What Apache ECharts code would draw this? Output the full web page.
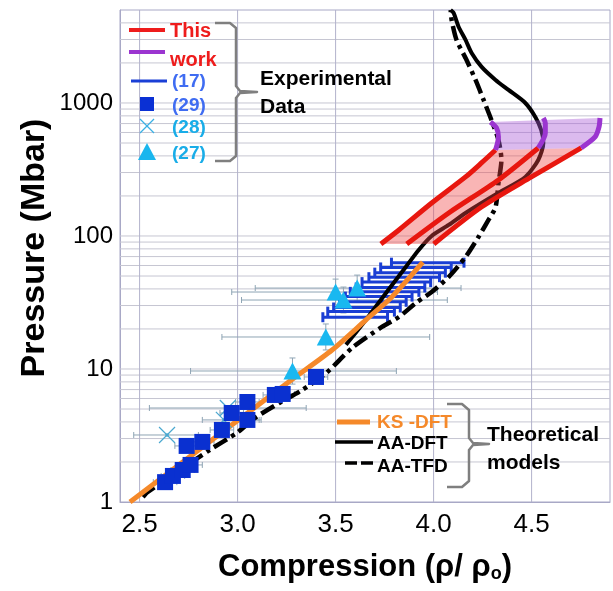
<!DOCTYPE html>
<html><head><meta charset="utf-8">
<script src="https://cdn.jsdelivr.net/npm/echarts@6/dist/echarts.min.js"></script>
<style>html,body{margin:0;padding:0;background:#fff}#c{width:613px;height:591px}</style>
</head><body><div id="c"></div>
<script>
// ---------- axis / grid values ----------
const xGridValues = [2.5, 3.0, 3.5, 4.0, 4.5];
const yLabelValues = [1, 10, 100, 1000];
const yGridValues = [2,3,4,5,6,7,8,9,10,20,30,40,50,60,70,80,90,100,200,300,400,500,600,700,800,900,1000,2000,3000,4000];

// ---------- theoretical models ----------
const ksDftX = [2.451, 2.862, 3.274, 3.482, 3.655, 3.787, 3.945];
const ksDftY = [1.0, 2.87, 8.27, 13.9, 23.4, 34.8, 63.5];

const aaDftX = [3.553, 3.655, 3.757, 3.858, 3.924, 3.990, 4.077, 4.163, 4.331, 4.468, 4.534, 4.560, 4.549, 4.519, 4.468, 4.382, 4.316, 4.245, 4.194, 4.163, 4.128, 4.102, 4.087];
const aaDftY = [15.2, 23.4, 37.3, 58.5, 78.5, 100, 121, 149, 211, 278, 373, 500, 626, 785, 1000, 1253, 1489, 1866, 2377, 2977, 3725, 4750, 5000];

const aaTfdX = [2.517, 2.542, 2.857, 2.995, 3.096, 3.213, 3.330, 3.452, 3.584, 3.736, 3.823, 3.909, 3.990, 4.077, 4.163, 4.229, 4.280, 4.316, 4.331, 4.346, 4.331, 4.295, 4.255, 4.214, 4.168, 4.117, 4.092, 4.087];
const aaTfdY = [1.09, 1.19, 2.46, 3.30, 4.36, 5.55, 6.95, 9.33, 14.4, 20.7, 24.6, 31.3, 37.9, 49.2, 69.5, 98.3, 132, 165, 250, 373, 527, 745, 1054, 1489, 2105, 2977, 4207, 5000];

// ---------- this work ----------
const redLeftX = [3.731, 3.823, 3.990, 4.163, 4.244, 4.316];
const redLeftY = [87.1, 111, 177, 278, 354, 443];
const redMidX = [3.863, 4.077, 4.331, 4.534];
const redMidY = [87.1, 149, 264, 459];
const redRightX = [4.001, 4.244, 4.499, 4.753];
const redRightY = [87.1, 165, 278, 459];
const purpleLeftX = [4.316, 4.331, 4.321, 4.290];
const purpleLeftY = [443, 555, 649, 719];
const purpleMidX = [4.534, 4.570, 4.570, 4.560];
const purpleMidY = [459, 595, 707, 771];
const purpleRightX = [4.753, 4.824, 4.844, 4.849];
const purpleRightY = [459, 555, 660, 771];

// ---------- experimental data ----------
// (17): points with horizontal error bars
const exp17X = [3.60, 3.63, 3.66, 3.69, 3.72, 3.75, 3.78, 3.81, 3.85, 3.88, 3.91, 3.97];
const exp17Y = [24.5, 27, 29, 32, 35, 38, 41, 45, 49, 53, 58, 63];
const exp17Lo = [3.435, 3.46, 3.49, 3.52, 3.55, 3.575, 3.605, 3.635, 3.67, 3.70, 3.73, 3.785];
const exp17Hi = [3.765, 3.80, 3.83, 3.86, 3.89, 3.925, 3.955, 3.985, 4.03, 4.06, 4.09, 4.155];
// (29): squares
const exp29X = [2.63, 2.67, 2.72, 2.76, 2.74, 2.82, 2.92, 2.97, 3.05, 3.05, 3.19, 3.23, 3.40];
const exp29Y = [1.41, 1.57, 1.74, 1.90, 2.64, 2.83, 3.48, 4.67, 4.14, 5.65, 6.38, 6.49, 8.71];
const exp29Lo = [2.57, 2.61, 2.66, 2.70, 2.68, 2.76, 2.86, 2.91, 2.99, 2.99, 3.13, 3.17, 3.34];
const exp29Hi = [2.69, 2.73, 2.78, 2.82, 2.80, 2.88, 2.98, 3.03, 3.11, 3.11, 3.25, 3.29, 3.46];
// (28): crosses
const exp28X = [2.64, 2.93, 2.95];
const exp28Y = [3.19, 4.14, 5.09];
const exp28Lo = [2.47, 2.82, 2.55];
const exp28Hi = [2.80, 3.12, 3.35];
// (27): triangles
const exp27X = [3.50, 3.61, 3.54, 3.45, 3.28];
const exp27Y = [37.9, 40.6, 33.0, 17.4, 9.66];
const exp27Lo = [2.97, 3.09, 3.02, 2.92, 2.76];
const exp27Hi = [4.02, 4.14, 4.07, 3.98, 3.81];
const exp27YLo = [30.3, 32.5, 26.4, 13.9, 7.7];
const exp27YHi = [47.4, 50.8, 41.3, 21.8, 12.1];

// ---------- helpers ----------
const X_MIN = 2.4, X_MAX = 4.9, Y_MIN = 1, Y_MAX = 5000;
const FONT = '"Liberation Sans", Arial, sans-serif';
const pairs = (xs, ys) => xs.map((x, i) => [x, ys[i]]);

function gridSeries(values, vertical, color, z) {
  return {
    type: 'custom', silent: true, z: z, clip: true,
    data: values.map(v => vertical ? [v, 10] : [3, v]),
    renderItem(params, api) {
      let a, b;
      if (vertical) { a = api.coord([api.value(0), Y_MIN]); b = api.coord([api.value(0), Y_MAX]); }
      else { a = api.coord([X_MIN, api.value(1)]); b = api.coord([X_MAX, api.value(1)]); }
      return { type: 'line', shape: { x1: a[0], y1: a[1], x2: b[0], y2: b[1] }, style: { stroke: color, lineWidth: 1 } };
    }
  };
}

function xErrSeries(xs, ys, lo, hi, color, width, cap, z) {
  return {
    type: 'custom', silent: true, z: z, clip: true,
    data: xs.map((x, i) => [x, ys[i], lo[i], hi[i]]),
    renderItem(params, api) {
      const y = api.value(1);
      const a = api.coord([api.value(2), y]);
      const b = api.coord([api.value(3), y]);
      const st = { stroke: color, lineWidth: width };
      return { type: 'group', children: [
        { type: 'line', shape: { x1: a[0], y1: a[1], x2: b[0], y2: b[1] }, style: st },
        { type: 'line', shape: { x1: a[0], y1: a[1] - cap, x2: a[0], y2: a[1] + cap }, style: st },
        { type: 'line', shape: { x1: b[0], y1: b[1] - cap, x2: b[0], y2: b[1] + cap }, style: st }
      ]};
    }
  };
}

function yErrSeries(xs, ys, lo, hi, color, width, cap, z) {
  return {
    type: 'custom', silent: true, z: z, clip: true,
    data: xs.map((x, i) => [x, ys[i], lo[i], hi[i]]),
    renderItem(params, api) {
      const x = api.value(0);
      const a = api.coord([x, api.value(2)]);
      const b = api.coord([x, api.value(3)]);
      const st = { stroke: color, lineWidth: width };
      return { type: 'group', children: [
        { type: 'line', shape: { x1: a[0], y1: a[1], x2: b[0], y2: b[1] }, style: st },
        { type: 'line', shape: { x1: a[0] - cap, y1: a[1], x2: a[0] + cap, y2: a[1] }, style: st },
        { type: 'line', shape: { x1: b[0] - cap, y1: b[1], x2: b[0] + cap, y2: b[1] }, style: st }
      ]};
    }
  };
}

function polygonSeries(xs, ys, fill, z) {
  return {
    type: 'custom', silent: true, z: z, clip: true,
    data: [[xs[0], ys[0]]],
    renderItem(params, api) {
      const pts = xs.map((x, i) => api.coord([x, ys[i]]));
      return { type: 'polygon', shape: { points: pts }, style: { fill: fill } };
    }
  };
}

function lineSeries(name, xs, ys, color, width, type, z) {
  return {
    type: 'line', name: name, data: pairs(xs, ys), showSymbol: false, symbol: 'none',
    smooth: 0.25, silent: true, z: z, clip: true,
    lineStyle: { color: color, width: width, type: type || 'solid', cap: 'butt', join: 'round' }
  };
}

// band outlines built from the red / purple curves
const pinkPolyX = redLeftX.concat(redRightX.slice().reverse());
const pinkPolyY = redLeftY.concat(redRightY.slice().reverse());
const purplePolyX = purpleLeftX.concat(purpleRightX.slice().reverse());
const purplePolyY = purpleLeftY.concat(purpleRightY.slice().reverse());

const chart = echarts.init(document.getElementById('c'));

const option = {
  animation: false,
  backgroundColor: '#ffffff',
  grid: { left: 120, top: 10, right: 1, bottom: 89, show: true, borderColor: '#a8a8c6', borderWidth: 1, backgroundColor: 'transparent' },
  xAxis: {
    type: 'value', min: X_MIN, max: X_MAX, interval: 0.1,
    name: 'Compression (ρ/ ρ{s|o})', nameLocation: 'middle', nameGap: 49,
    nameTextStyle: { fontFamily: FONT, fontWeight: 'bold', fontSize: 31, color: '#000',
      rich: { s: { fontFamily: FONT, fontWeight: 'bold', fontSize: 18, color: '#000', verticalAlign: 'bottom', padding: [14, 0, 0, 0] } } },
    axisLine: { show: true, lineStyle: { color: '#a8a8c6', width: 1 } },
    axisTick: { show: false },
    splitLine: { show: false },
    axisLabel: {
      fontFamily: FONT, fontSize: 26, color: '#000', margin: 10,
      formatter: v => { const r = Math.round(v * 10); return r % 5 === 0 ? (r / 10).toFixed(1) : ''; }
    }
  },
  yAxis: {
    type: 'log', logBase: 10, min: Y_MIN, max: Y_MAX,
    axisLine: { show: true, lineStyle: { color: '#a8a8c6', width: 1 } },
    axisTick: { show: false },
    splitLine: { show: false },
    axisLabel: {
      fontFamily: FONT, fontSize: 24, color: '#000', margin: 7, showMaxLabel: false,
      formatter: v => yLabelValues.some(t => Math.abs(t - v) < 1e-6 * t) ? String(Math.round(v)) : ''
    }
  },
  graphic: [
    { type: 'text', x: 35, y: 248, rotation: Math.PI / 2, z: 100,
      style: { text: 'Pressure (Mbar)', font: 'bold 34px ' + FONT, fill: '#000', align: 'center', verticalAlign: 'middle' } },
    // legend: experimental
    { type: 'line', z: 100, shape: { x1: 129, y1: 30, x2: 165, y2: 30 }, style: { stroke: '#ee1c1c', lineWidth: 4 } },
    { type: 'line', z: 100, shape: { x1: 129, y1: 52, x2: 165, y2: 52 }, style: { stroke: '#9b35d0', lineWidth: 4 } },
    { type: 'text', z: 100, x: 170, y: 31, style: { text: 'This', font: 'bold 20px ' + FONT, fill: '#ee1c1c', verticalAlign: 'middle' } },
    { type: 'text', z: 100, x: 170, y: 60, style: { text: 'work', font: 'bold 20px ' + FONT, fill: '#ee1c1c', verticalAlign: 'middle' } },
    { type: 'line', z: 100, shape: { x1: 131, y1: 81, x2: 167, y2: 81 }, style: { stroke: '#1a3fd6', lineWidth: 3 } },
    { type: 'text', z: 100, x: 172, y: 82, style: { text: '(17)', font: 'bold 19px ' + FONT, fill: '#3f6cf2', verticalAlign: 'middle' } },
    { type: 'rect', z: 100, shape: { x: 140, y: 97, width: 14, height: 14 }, style: { fill: '#0a30d4' } },
    { type: 'text', z: 100, x: 172, y: 106, style: { text: '(29)', font: 'bold 19px ' + FONT, fill: '#3f6cf2', verticalAlign: 'middle' } },
    { type: 'line', z: 100, shape: { x1: 140, y1: 119, x2: 154, y2: 133 }, style: { stroke: '#3ab0e4', lineWidth: 1.2 } },
    { type: 'line', z: 100, shape: { x1: 154, y1: 119, x2: 140, y2: 133 }, style: { stroke: '#3ab0e4', lineWidth: 1.2 } },
    { type: 'text', z: 100, x: 172, y: 128, style: { text: '(28)', font: 'bold 19px ' + FONT, fill: '#19ade8', verticalAlign: 'middle' } },
    { type: 'polygon', z: 100, shape: { points: [[147, 143], [138, 160], [156, 160]] }, style: { fill: '#19b6ee' } },
    { type: 'text', z: 100, x: 172, y: 154, style: { text: '(27)', font: 'bold 19px ' + FONT, fill: '#19ade8', verticalAlign: 'middle' } },
    { type: 'polyline', z: 100, shape: { points: [[215, 23], [230, 23], [236, 28], [236, 86], [240, 91], [257, 92], [240, 93], [236, 98], [236, 156], [230, 161], [215, 161]] },
      style: { stroke: '#7f7f7f', lineWidth: 2.5, fill: null, lineJoin: 'round' } },
    { type: 'text', z: 100, x: 260, y: 79, style: { text: 'Experimental', font: 'bold 21px ' + FONT, fill: '#000', verticalAlign: 'middle' } },
    { type: 'text', z: 100, x: 260, y: 107, style: { text: 'Data', font: 'bold 21px ' + FONT, fill: '#000', verticalAlign: 'middle' } },
    // legend: theoretical
    { type: 'line', z: 100, shape: { x1: 337, y1: 422, x2: 370, y2: 422 }, style: { stroke: '#f5892a', lineWidth: 5 } },
    { type: 'text', z: 100, x: 377, y: 423, style: { text: 'KS -DFT', font: 'bold 19px ' + FONT, fill: '#f5892a', verticalAlign: 'middle' } },
    { type: 'line', z: 100, shape: { x1: 335, y1: 442, x2: 373, y2: 442 }, style: { stroke: '#000', lineWidth: 3.5 } },
    { type: 'text', z: 100, x: 377, y: 444, style: { text: 'AA-DFT', font: 'bold 19px ' + FONT, fill: '#000', verticalAlign: 'middle' } },
    { type: 'line', z: 100, shape: { x1: 345, y1: 463, x2: 373, y2: 463 }, style: { stroke: '#000', lineWidth: 3.5, lineDash: [12, 4] } },
    { type: 'text', z: 100, x: 377, y: 467, style: { text: 'AA-TFD', font: 'bold 19px ' + FONT, fill: '#000', verticalAlign: 'middle' } },
    { type: 'polyline', z: 100, shape: { points: [[447, 404], [462, 404], [469, 410], [469, 438], [473, 443], [489, 444], [473, 445], [469, 450], [469, 481], [462, 487], [447, 487]] },
      style: { stroke: '#7f7f7f', lineWidth: 2.5, fill: null, lineJoin: 'round' } },
    { type: 'text', z: 100, x: 487, y: 435, style: { text: 'Theoretical', font: 'bold 21px ' + FONT, fill: '#000', verticalAlign: 'middle' } },
    { type: 'text', z: 100, x: 487, y: 463, style: { text: 'models', font: 'bold 21px ' + FONT, fill: '#000', verticalAlign: 'middle' } }
  ],
  series: [
    gridSeries(yGridValues, false, '#c6c6d2', 1),
    gridSeries(xGridValues, true, '#b2b2cc', 1),
    // thin error bars
    xErrSeries(exp27X, exp27Y, exp27Lo, exp27Hi, '#8ea4b4', 1, 3, 3),
    xErrSeries(exp28X, exp28Y, exp28Lo, exp28Hi, '#8ea4b4', 1, 3, 3),
    xErrSeries(exp29X, exp29Y, exp29Lo, exp29Hi, '#8ea4b4', 1, 3, 3),
    yErrSeries(exp27X, exp27Y, exp27YLo, exp27YHi, '#8ea4b4', 1, 3, 3),
    // (17) thick blue error bars
    xErrSeries(exp17X, exp17Y, exp17Lo, exp17Hi, '#1a3ed4', 3, 5, 4),
    // theoretical curves
    lineSeries('AA-TFD', aaTfdX, aaTfdY, '#000000', 4.5, [15, 5, 4, 5], 6),
    lineSeries('AA-DFT', aaDftX, aaDftY, '#000000', 4, 'solid', 6),
    lineSeries('KS-DFT', ksDftX, ksDftY, '#f5892a', 5, 'solid', 7),
    // this work band
    polygonSeries(pinkPolyX, pinkPolyY, 'rgba(240,70,70,0.40)', 8),
    polygonSeries(purplePolyX, purplePolyY, 'rgba(170,90,215,0.42)', 8),
    lineSeries('This work', redLeftX, redLeftY, '#e8170f', 5, 'solid', 9),
    lineSeries('This work mid', redMidX, redMidY, '#e8170f', 5, 'solid', 9),
    lineSeries('This work right', redRightX, redRightY, '#e8170f', 5, 'solid', 9),
    lineSeries('purple left', purpleLeftX, purpleLeftY, '#9b35d0', 5, 'solid', 9),
    lineSeries('purple mid', purpleMidX, purpleMidY, '#9b35d0', 5, 'solid', 9),
    lineSeries('purple right', purpleRightX, purpleRightY, '#9b35d0', 5, 'solid', 9),
    // markers
    { type: 'scatter', name: '(29)', data: pairs(exp29X, exp29Y), symbol: 'rect', symbolSize: 16, z: 10, silent: true,
      itemStyle: { color: '#0a30d0', opacity: 1 } },
    { type: 'custom', name: '(28)', silent: true, z: 10,
      data: pairs(exp28X, exp28Y),
      renderItem(params, api) {
        const p = api.coord([api.value(0), api.value(1)]);
        const st = { stroke: '#4aa8d0', lineWidth: 1.2 };
        return { type: 'group', children: [
          { type: 'line', shape: { x1: p[0] - 8, y1: p[1] - 8, x2: p[0] + 8, y2: p[1] + 8 }, style: st },
          { type: 'line', shape: { x1: p[0] + 8, y1: p[1] - 8, x2: p[0] - 8, y2: p[1] + 8 }, style: st },
          { type: 'circle', shape: { cx: p[0], cy: p[1], r: 1.8 }, style: { fill: '#4aa8d0' } }
        ]};
      } },
    { type: 'scatter', name: '(27)', data: pairs(exp27X, exp27Y), symbol: 'triangle', symbolSize: [18, 17], z: 11, silent: true,
      itemStyle: { color: '#19b8f0', opacity: 1 } }
  ]
};
chart.setOption(option);
</script>
</body></html>
